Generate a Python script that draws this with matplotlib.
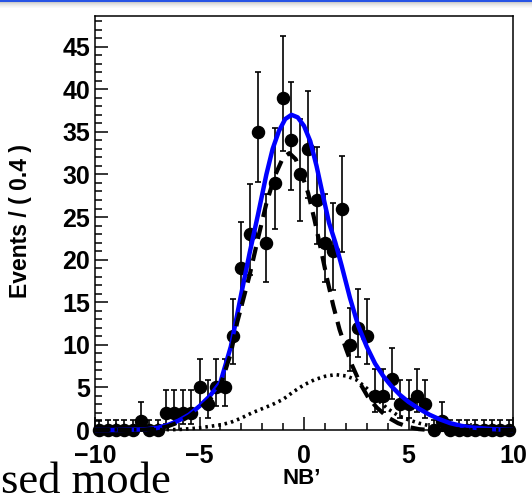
import math
import numpy as np
import matplotlib
matplotlib.use("Agg")
import matplotlib.pyplot as plt
from matplotlib.ticker import MultipleLocator

# ---------------- data ----------------
bin_centers = [round(-9.8 + 0.4 * i, 1) for i in range(50)]
counts = [0, 0, 0, 0, 0, 1, 0, 0, 2, 2,
          2, 2, 5, 3, 5, 5, 11, 19, 23, 35,
          22, 29, 39, 34, 30, 33, 27, 22, 21, 26,
          10, 12, 11, 4, 4, 6, 3, 3, 4, 3,
          0, 1, 0, 0, 0, 0, 0, 0, 0, 0]

# total fit (blue)
total_x = [-10, -9, -8, -7.5, -7, -6.5, -6, -5.5, -5, -4.5, -4, -3.5, -3.0, -2.6, -2.2,
           -1.8, -1.5, -1.2, -0.9, -0.6, -0.3, 0.0, 0.3, 0.6, 0.9, 1.2, 1.5, 1.8, 2.2,
           2.6, 3.0, 3.4, 3.8, 4.2, 4.6, 5.0, 5.5, 6.0, 6.5, 7.0, 7.5, 8.0, 9.0, 10]
total_y = [0, 0, 0.05, 0.1, 0.25, 0.6, 1.1, 1.8, 2.8, 4.0, 5.6, 9.8, 16.0, 20.8, 25.3,
           30.0, 33.0, 35.1, 36.5, 37.0, 36.7, 35.7, 33.9, 31.0, 27.6, 24.3, 22.0, 19.3, 15.5,
           12.2, 9.8, 7.8, 6.3, 5.1, 4.1, 3.3, 2.5, 1.8, 1.25, 0.8, 0.5, 0.3, 0.1, 0]

# peaking component (black dashed)
peak_x = [-10, -8, -7, -6.5, -6, -5.5, -5, -4.5, -4, -3.5, -3.2, -2.9, -2.6, -2.2, -1.8,
          -1.4, -1.0, -0.7, -0.4, -0.1, 0.2, 0.5, 0.8, 1.1, 1.4, 1.7, 2.0, 2.3, 2.7, 3.1,
          3.5, 4.0, 4.5, 5.0, 5.5, 6.0, 10]
peak_y = [0, 0, 0.15, 0.45, 0.9, 1.6, 2.5, 3.6, 5.2, 9.0, 12.6, 15.4, 18.2, 22.5, 26.6,
          29.8, 32.0, 32.5, 31.8, 30.0, 27.8, 24.7, 21.3, 17.8, 14.6, 11.8, 9.6, 7.6, 5.4, 3.7,
          2.6, 1.5, 0.8, 0.35, 0.1, 0, 0]

# broad component (black dotted)
broad_x = [-10, -6, -5, -4, -3.5, -3, -2.5, -2, -1.5, -1, -0.5, 0, 0.5, 1.0, 1.5, 2.0,
           2.5, 3.0, 3.5, 4.0, 4.5, 5.0, 5.5, 6.0, 6.5, 7.0, 8.0, 10]
broad_y = [0, 0.05, 0.25, 0.6, 0.9, 1.4, 2.0, 2.5, 3.0, 3.6, 4.5, 5.3, 5.9, 6.3, 6.5, 6.35,
           5.9, 4.9, 3.6, 2.5, 1.7, 1.2, 0.8, 0.5, 0.3, 0.15, 0.03, 0]

x_ticks = [-10, -5, 0, 5, 10]
y_ticks = [0, 5, 10, 15, 20, 25, 30, 35, 40, 45]
x_label = "NB\u2019"
y_label = "Events / ( 0.4 )"
caption = "sed mode"


# Poisson (Garwood) 68% intervals, as drawn by RooFit
def pois_cdf(k, mu):
    s, term = 0.0, math.exp(-mu)
    for i in range(k + 1):
        if i > 0:
            term *= mu / i
        s += term
    return s


def solve(f, target, lo, hi, decreasing=True):
    for _ in range(80):
        mid = 0.5 * (lo + hi)
        v = f(mid)
        if (v > target) == decreasing:
            lo = mid
        else:
            hi = mid
    return 0.5 * (lo + hi)


alpha = 0.158655
err_lo, err_hi = [], []
for n in counts:
    if n == 0:
        err_lo.append(0.0)
        err_hi.append(-math.log(1 - 0.682689))
    else:
        up = solve(lambda m: pois_cdf(n, m), alpha, n, n + 60)
        lo = solve(lambda m: pois_cdf(n - 1, m), 1 - alpha, 0, n)
        err_lo.append(n - lo)
        err_hi.append(up - n)

# ---------------- figure ----------------
W, H = 532, 503
fig = plt.figure(figsize=(W / 100, H / 100), dpi=100)

# slide header bar (blue line + soft shade)
hdr = fig.add_axes([0, 1 - 9 / H, 1, 9 / H])
grad = np.ones((9, 1, 3))
grad[0:2] = [0.16, 0.33, 0.90]
for i, g in enumerate([0.80, 0.86, 0.90, 0.93, 0.96, 0.98, 1.0]):
    grad[2 + i] = [g, g, g]
hdr.imshow(grad, aspect="auto", extent=[0, 1, 0, 1], interpolation="nearest")
hdr.axis("off")

left, right, top, bottom = 95, 513, 16, 430
ax = fig.add_axes([left / W, 1 - bottom / H, (right - left) / W, (bottom - top) / H])
ax.set_xlim(-10, 10)
ax.set_ylim(0, 48.6)

ax.errorbar(bin_centers, counts, yerr=[err_lo, err_hi], fmt="o", color="black",
            markersize=8.7, elinewidth=1.2, capsize=2.5, capthick=1.2,
            clip_on=False, zorder=3)

ax.plot(total_x, total_y, color="#0000ff", lw=3.2, solid_capstyle="butt",
        clip_on=False, zorder=4)
ax.plot(peak_x, peak_y, color="black", lw=3.0, dashes=(3.4, 2.0),
        clip_on=False, zorder=5)
ax.plot(broad_x, broad_y, color="black", lw=2.6, dashes=(0.7, 1.1),
        clip_on=False, zorder=5)

for s in ax.spines.values():
    s.set_linewidth(1.1)

ax.set_xticks(x_ticks)
ax.set_yticks(y_ticks)
ax.xaxis.set_minor_locator(MultipleLocator(1))
ax.yaxis.set_minor_locator(MultipleLocator(1))
ax.tick_params(which="both", direction="in", top=False, right=False, width=1.1)
ax.tick_params(which="major", length=9.5)
ax.tick_params(which="minor", length=5)
ax.tick_params(axis="y", which="major", pad=3.5)
ax.tick_params(axis="x", which="major", pad=10)

fp = dict(family=["Liberation Sans", "DejaVu Sans"], weight="bold")
for lab in ax.get_xticklabels() + ax.get_yticklabels():
    lab.set_fontfamily(fp["family"])
    lab.set_fontweight("bold")
    lab.set_fontsize(18)

fig.text(21 / W, 1 - 221 / H, y_label, rotation=90, ha="center", va="center",
         fontsize=16.5, **fp)
fig.text(302 / W, 1 - 479 / H, x_label, ha="center", va="center", fontsize=16, **fp)
fig.text(1 / W, 1 - 493 / H, caption, ha="left", va="baseline", fontsize=32,
         family=["Liberation Serif", "DejaVu Serif"])

fig.savefig("out.png", dpi=100)
